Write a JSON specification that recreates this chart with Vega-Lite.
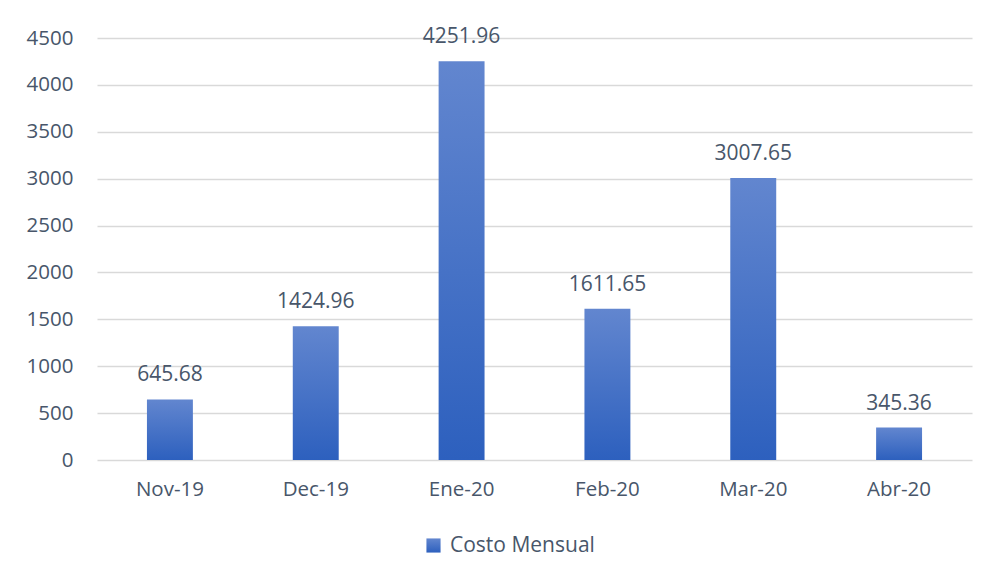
{
  "$schema": "https://vega.github.io/schema/vega-lite/v6.json",
  "width": 875,
  "height": 422,
  "autosize": {"type": "none"},
  "padding": {"left": 97, "top": 38, "right": 15, "bottom": 117},
  "background": "white",
  "config": {
    "view": {"stroke": null},
    "font": "Open Sans",
    "axis": {"labelFont": "Open Sans", "labelColor": "#48566a", "labelFontSize": 20.5, "gridColor": "#d9d9d9", "gridWidth": 1.5},
    "legend": {"labelFont": "Open Sans", "labelColor": "#48566a", "labelFontSize": 21}
  },
  "data": {
    "values": [
      {"mes": "Nov-19", "costo": 645.68, "serie": "Costo Mensual"},
      {"mes": "Dec-19", "costo": 1424.96, "serie": "Costo Mensual"},
      {"mes": "Ene-20", "costo": 4251.96, "serie": "Costo Mensual"},
      {"mes": "Feb-20", "costo": 1611.65, "serie": "Costo Mensual"},
      {"mes": "Mar-20", "costo": 3007.65, "serie": "Costo Mensual"},
      {"mes": "Abr-20", "costo": 345.36, "serie": "Costo Mensual"}
    ]
  },
  "encoding": {
    "x": {
      "field": "mes", "type": "nominal", "sort": null,
      "scale": {"paddingInner": 0.685, "paddingOuter": 0.3425},
      "axis": {"title": null, "labelAngle": 0, "domain": false, "ticks": false, "labelPadding": 19}
    },
    "y": {
      "field": "costo", "type": "quantitative",
      "scale": {"domain": [0, 4500], "nice": false},
      "axis": {"title": null, "values": [0, 500, 1000, 1500, 2000, 2500, 3000, 3500, 4000, 4500], "domain": false, "ticks": false, "labelPadding": 24, "format": "d"}
    }
  },
  "layer": [
    {
      "mark": {"type": "bar", "fill": {"gradient": "linear", "x1": 0, "y1": 0, "x2": 0, "y2": 1, "stops": [{"offset": 0, "color": "#6286cf"}, {"offset": 1, "color": "#2d60be"}]}, "strokeWidth": 0},
      "encoding": {
        "stroke": {
          "field": "serie", "type": "nominal",
          "scale": {"range": ["#4a73c6"]},
          "legend": {"title": null, "orient": "none", "legendX": 326, "legendY": 497, "symbolType": "square", "symbolSize": 200, "symbolStrokeWidth": 0, "labelOffset": 6,
            "symbolFillColor": "#4a73c6"}
        }
      }
    },
    {
      "mark": {"type": "text", "baseline": "alphabetic", "dy": -18, "fontSize": 21, "color": "#48566a", "font": "Open Sans"},
      "encoding": {"text": {"field": "costo", "type": "quantitative", "format": ".2f"}}
    }
  ]
}
